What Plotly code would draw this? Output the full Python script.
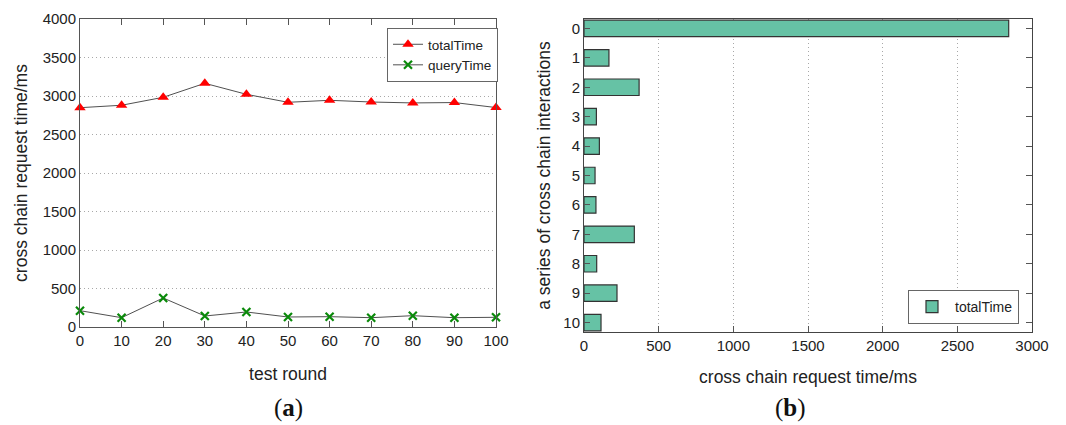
import plotly.graph_objects as go

rounds = [0, 10, 20, 30, 40, 50, 60, 70, 80, 90, 100]
total_time = [2848, 2880, 2983, 3165, 3022, 2918, 2944, 2922, 2910, 2915, 2850]
query_time = [212, 121, 377, 143, 195, 130, 134, 121, 147, 121, 126]

series_idx = [0, 1, 2, 3, 4, 5, 6, 7, 8, 9, 10]
series_total = [2844, 167, 369, 83, 103, 74, 80, 337, 85, 221, 114]

W, H = 1066, 425
OFF = 8  # page body margin
def px(x):
    return (x - OFF) / W
def py(y):
    return 1 - (y - OFF) / H

FONT = "Liberation Sans, Arial, sans-serif"
TXT = "#222222"
GRID = "#a8a8a8"

fig = go.Figure()

fig.add_trace(go.Scatter(
    x=rounds, y=total_time, name="totalTime", mode="lines+markers",
    line=dict(color="#505050", width=1),
    marker=dict(symbol="triangle-up", size=10, color="#ff0000"),
    xaxis="x", yaxis="y", cliponaxis=False, legend="legend",
))
fig.add_trace(go.Scatter(
    x=rounds, y=query_time, name="queryTime", mode="lines+markers",
    line=dict(color="#505050", width=1),
    marker=dict(symbol="x-thin", size=8, color="#0a8a0a",
                line=dict(color="#0a8a0a", width=2.2)),
    xaxis="x", yaxis="y", cliponaxis=False, legend="legend",
))
fig.add_trace(go.Bar(
    x=series_total, y=series_idx, orientation="h", name="totalTime",
    marker=dict(color="#66c2a5", line=dict(color="#333333", width=1.2)),
    width=0.56, xaxis="x2", yaxis="y2", legend="legend2",
))

tickfont = dict(family=FONT, size=15, color=TXT)
titlefont = dict(family=FONT, size=17.5, color=TXT)

fig.update_layout(
    width=W, height=H,
    margin=dict(l=0, r=0, t=0, b=0, autoexpand=False),
    paper_bgcolor="white", plot_bgcolor="white",
    font=dict(family=FONT, color=TXT),
    xaxis=dict(
        domain=[px(80), px(496)], anchor="y", range=[0, 100], automargin=False,
        tickvals=rounds, ticks="inside", ticklen=6, tickcolor="#555",
        showline=True, linecolor="#555", linewidth=1, mirror="ticks",
        showgrid=False, zeroline=False, tickfont=tickfont,
        title=dict(text="test round", font=titlefont, standoff=19),
    ),
    yaxis=dict(
        domain=[py(327), py(19)], anchor="x", range=[0, 4000], automargin=False,
        tickvals=[0, 500, 1000, 1500, 2000, 2500, 3000, 3500, 4000],
        ticks="", showline=True, linecolor="#555", linewidth=1, mirror=True,
        showgrid=True, gridcolor=GRID, griddash="1px,3px", gridwidth=1,
        zeroline=False, tickfont=tickfont,
        title=dict(text="cross chain request time/ms", font=titlefont, standoff=10),
    ),
    xaxis2=dict(
        domain=[px(584), px(1032)], anchor="y2", range=[0, 3000], automargin=False,
        tickvals=[0, 500, 1000, 1500, 2000, 2500, 3000],
        ticks="inside", ticklen=6, tickcolor="#555",
        showline=True, linecolor="#444", linewidth=1, mirror=True,
        showgrid=True, gridcolor=GRID, griddash="1px,3px", gridwidth=1,
        zeroline=False, tickfont=tickfont,
        title=dict(text="cross chain request time/ms", font=titlefont, standoff=17),
    ),
    yaxis2=dict(
        domain=[py(332), py(19)], anchor="x2", range=[10.32, -0.32], automargin=False,
        tickvals=series_idx, ticks="inside", ticklen=6, tickcolor="#555",
        showline=True, linecolor="#444", linewidth=1, mirror="ticks",
        showgrid=False, zeroline=False, tickfont=tickfont,
        title=dict(text="a series of cross chain interactions", font=titlefont, standoff=8),
    ),
    legend=dict(
        x=px(387), y=py(28), xanchor="left", yanchor="top",
        bgcolor="white", bordercolor="#666", borderwidth=1,
        font=dict(family=FONT, size=13.5, color=TXT),
        tracegroupgap=0, itemwidth=30,
    ),
    legend2=dict(
        x=px(908), y=py(290), xanchor="left", yanchor="top",
        bgcolor="white", bordercolor="#666", borderwidth=1,
        font=dict(family=FONT, size=14, color=TXT),
        itemwidth=36,
    ),
    showlegend=True,
)

fig.add_annotation(text="(<b>a</b>)", x=px(288), y=py(408), xref="paper", yref="paper",
                   xanchor="center", yanchor="middle",
                   showarrow=False, font=dict(family="Liberation Serif, serif", size=25, color="#111"))
fig.add_annotation(text="(<b>b</b>)", x=px(790), y=py(408), xref="paper", yref="paper",
                   xanchor="center", yanchor="middle",
                   showarrow=False, font=dict(family="Liberation Serif, serif", size=25, color="#111"))

fig.write_html("out.html")
